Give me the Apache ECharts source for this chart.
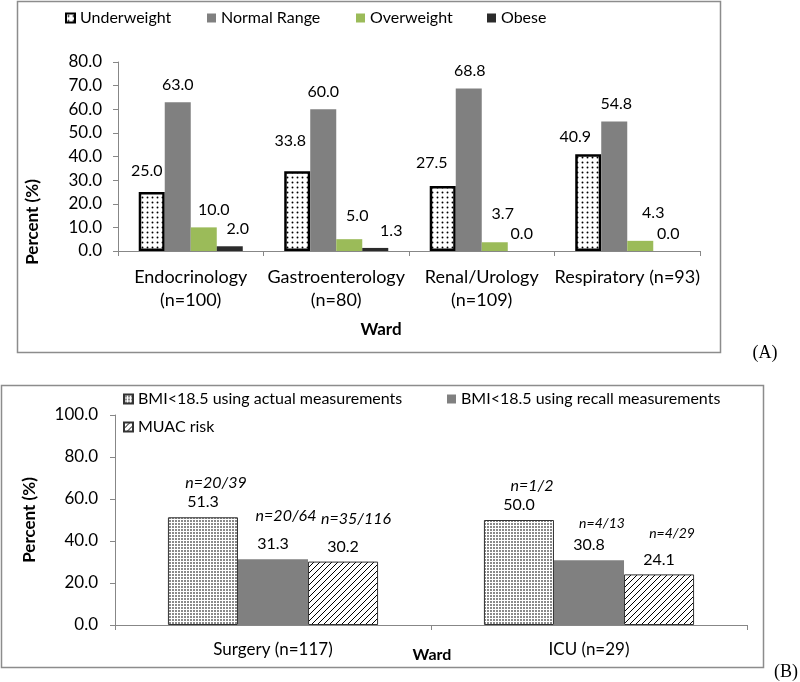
<!DOCTYPE html>
<html>
<head>
<meta charset="utf-8">
<script src="https://cdn.jsdelivr.net/npm/echarts@6/dist/echarts.min.js"></script>
<style>
html,body{margin:0;padding:0;background:#fff;}
#chart{width:800px;height:682px;}
</style>
</head>
<body>
<div id="chart"></div>
<script>
// ---------- DATA (Panel A) ----------
const wardsA = ['Endocrinology\n(n=100)', 'Gastroenterology\n(n=80)', 'Renal/Urology\n(n=109)', 'Respiratory (n=93)'];
const underweight = [25.0, 33.8, 27.5, 40.9];
const normalRange = [63.0, 60.0, 68.8, 54.8];
const overweight = [10.0, 5.0, 3.7, 4.3];
const obese = [2.0, 1.3, 0.0, 0.0];
const seriesNamesA = ['Underweight', 'Normal Range', 'Overweight', 'Obese'];

// ---------- DATA (Panel B) ----------
const wardsB = ['Surgery (n=117)', 'ICU (n=29)'];
const bmiActual = [51.3, 50.0];
const bmiRecall = [31.3, 30.8];
const muacRisk = [30.2, 24.1];
const nActual = ['n=20/39', 'n=1/2'];
const nRecall = ['n=20/64', 'n=4/13'];
const nMuac = ['n=35/116', 'n=4/29'];
const seriesNamesB = ['BMI<18.5 using actual measurements', 'BMI<18.5 using recall measurements', 'MUAC risk'];

// ---------- LAYOUT / STYLE (not data) ----------
const FONT = 'Lato';
// label nudges [dx, dy] per series per category (panel A)
const nudgeA = [
  [[-5,-4],[-7,-13],[-11,-6],[-13,0]],
  [[0,0],[0,0],[1,0],[2,0]],
  [[10,0],[8,-6],[8,-11],[13,-10]],
  [[8,0],[16,0],[1,0],[2,0]]
];
// line heights of the "n=" line in panel B labels, and font sizes
const nLineB = [[18,18],[36,24],[36,32]];
const nSizeB = [[16,16],[16,14],[16,14]];

function pattern(w, h, draw) {
  const c = document.createElement('canvas');
  c.width = w; c.height = h;
  const ctx = c.getContext('2d');
  ctx.fillStyle = '#fff';
  ctx.fillRect(0, 0, w, h);
  draw(ctx);
  return { image: c, repeat: 'repeat' };
}
const dotsSparse = pattern(5, 5, ctx => {
  ctx.fillStyle = '#000';
  ctx.beginPath(); ctx.arc(2.5, 2.5, 0.95, 0, Math.PI * 2); ctx.fill();
});
const dotsDense = pattern(3, 3, ctx => {
  ctx.fillStyle = '#8a8a8a';
  ctx.fillRect(1, 1, 2, 2);
});
const hatch = pattern(6, 6, ctx => {
  ctx.strokeStyle = '#000';
  ctx.lineWidth = 1;
  ctx.beginPath();
  ctx.moveTo(-1, 7); ctx.lineTo(7, -1);
  ctx.moveTo(-1, 1); ctx.lineTo(1, -1);
  ctx.moveTo(5, 7); ctx.lineTo(7, 5);
  ctx.stroke();
});

const axisGray = '#878787';

function buildA(values, si) {
  return values.map((v, i) => ({ value: v, label: { offset: nudgeA[si][i] } }));
}
function buildB(values, nTexts, si) {
  return values.map((v, i) => ({
    value: v,
    label: {
      formatter: '{n|' + nTexts[i] + '}\n{v|' + v.toFixed(1) + '}',
      rich: {
        n: { fontFamily: FONT, fontStyle: 'italic', fontSize: nSizeB[si][i], lineHeight: nLineB[si][i], color: '#000', padding: [0, 0, 0, 26] },
        v: { fontFamily: FONT, fontSize: 16, lineHeight: 20, color: '#000' }
      }
    }
  }));
}

const labelA = { show: true, position: 'top', distance: 8, fontFamily: FONT, fontSize: 16, lineHeight: 19, color: '#000', formatter: p => Number(p.value).toFixed(1) };
const labelB = { show: true, position: 'top', distance: 5, fontFamily: FONT, color: '#000' };

function legend(name, left, top) {
  return {
    data: [name], left: left, top: top, orient: 'horizontal',
    icon: 'rect', itemWidth: 9, itemHeight: 9, itemGap: 0,
    padding: 0, selectedMode: false,
    textStyle: { fontFamily: FONT, fontSize: 16, color: '#000' }
  };
}

const chart = echarts.init(document.getElementById('chart'), null, { renderer: 'canvas' });
chart.setOption({
  animation: false,
  backgroundColor: '#fff',
  textStyle: { fontFamily: FONT },
  legend: [
    legend(seriesNamesA[0], 65, 10),
    legend(seriesNamesA[1], 207, 10),
    legend(seriesNamesA[2], 356, 10),
    legend(seriesNamesA[3], 487, 10),
    legend(seriesNamesB[0], 123, 391),
    legend(seriesNamesB[1], 447, 391),
    legend(seriesNamesB[2], 123, 419)
  ],
  grid: [
    { left: 118, top: 62, width: 582, height: 189 },
    { left: 115, top: 415, width: 632, height: 210 }
  ],
  xAxis: [
    {
      gridIndex: 0, type: 'category', data: wardsA,
      axisLine: { lineStyle: { color: axisGray, width: 1 } },
      axisTick: { show: true, length: 5, lineStyle: { color: axisGray } },
      axisLabel: { margin: 15, fontFamily: FONT, fontSize: 18, lineHeight: 23, color: '#000', interval: 0 }
    },
    {
      gridIndex: 1, type: 'category', data: wardsB,
      axisLine: { lineStyle: { color: axisGray, width: 1 } },
      axisTick: { show: true, length: 5, lineStyle: { color: axisGray } },
      axisLabel: { margin: 15, fontFamily: FONT, fontSize: 17, lineHeight: 20, color: '#000', interval: 0 }
    }
  ],
  yAxis: [
    {
      gridIndex: 0, type: 'value', min: 0, max: 80, interval: 10,
      splitLine: { show: false },
      axisLine: { show: true, lineStyle: { color: axisGray } },
      axisTick: { show: true, length: 5, lineStyle: { color: axisGray } },
      axisLabel: { margin: 16, fontFamily: FONT, fontSize: 17, color: '#000', formatter: v => v.toFixed(1) }
    },
    {
      gridIndex: 1, type: 'value', min: 0, max: 100, interval: 20,
      splitLine: { show: false },
      axisLine: { show: true, lineStyle: { color: axisGray } },
      axisTick: { show: true, length: 5, lineStyle: { color: axisGray } },
      axisLabel: { margin: 17, fontFamily: FONT, fontSize: 17, color: '#000', formatter: v => v.toFixed(1) }
    }
  ],
  series: [
    { name: seriesNamesA[0], type: 'bar', xAxisIndex: 0, yAxisIndex: 0, barGap: '0%', barCategoryGap: '28.5%',
      data: buildA(underweight, 0), itemStyle: { color: dotsSparse, borderColor: '#000', borderWidth: 2.5 }, label: labelA },
    { name: seriesNamesA[1], type: 'bar', xAxisIndex: 0, yAxisIndex: 0, barGap: '0%', barCategoryGap: '28.5%',
      data: buildA(normalRange, 1), itemStyle: { color: '#808080' }, label: labelA },
    { name: seriesNamesA[2], type: 'bar', xAxisIndex: 0, yAxisIndex: 0, barGap: '0%', barCategoryGap: '28.5%',
      data: buildA(overweight, 2), itemStyle: { color: '#9bbb59' }, label: labelA },
    { name: seriesNamesA[3], type: 'bar', xAxisIndex: 0, yAxisIndex: 0, barGap: '0%', barCategoryGap: '28.5%',
      data: buildA(obese, 3), itemStyle: { color: '#2b2b2b' }, label: labelA },

    { name: seriesNamesB[0], type: 'bar', xAxisIndex: 1, yAxisIndex: 1, barGap: '0%', barCategoryGap: '33.5%',
      data: buildB(bmiActual, nActual, 0), itemStyle: { color: dotsDense, borderColor: '#333', borderWidth: 1 }, label: labelB },
    { name: seriesNamesB[1], type: 'bar', xAxisIndex: 1, yAxisIndex: 1, barGap: '0%', barCategoryGap: '33.5%',
      data: buildB(bmiRecall, nRecall, 1), itemStyle: { color: '#808080' }, label: labelB },
    { name: seriesNamesB[2], type: 'bar', xAxisIndex: 1, yAxisIndex: 1, barGap: '0%', barCategoryGap: '33.5%',
      data: buildB(muacRisk, nMuac, 2), itemStyle: { color: hatch, borderColor: '#333', borderWidth: 1 }, label: labelB }
  ],
  graphic: [
    { type: 'rect', shape: { x: 17.5, y: 1.5, width: 703, height: 351 }, style: { fill: null, stroke: '#8c8c8c', lineWidth: 1.5 }, silent: true, z: -1 },
    { type: 'rect', shape: { x: 1.5, y: 385.5, width: 762, height: 282 }, style: { fill: null, stroke: '#8c8c8c', lineWidth: 1.5 }, silent: true, z: -1 },
    { type: 'text', x: 33, y: 222, rotation: Math.PI / 2, style: { text: 'Percent (%)', font: 'bold 17px ' + FONT, fill: '#000', textAlign: 'center', textVerticalAlign: 'middle' } },
    { type: 'text', x: 30, y: 520, rotation: Math.PI / 2, style: { text: 'Percent (%)', font: 'bold 17px ' + FONT, fill: '#000', textAlign: 'center', textVerticalAlign: 'middle' } },
    { type: 'text', x: 381, y: 330, style: { text: 'Ward', font: 'bold 17px ' + FONT, fill: '#000', textAlign: 'center', textVerticalAlign: 'middle' } },
    { type: 'text', x: 432, y: 655, style: { text: 'Ward', font: 'bold 16px ' + FONT, fill: '#000', textAlign: 'center', textVerticalAlign: 'middle' } },
    { type: 'text', x: 765, y: 353, style: { text: '(A)', font: '18px "Liberation Serif"', fill: '#000', textAlign: 'center', textVerticalAlign: 'middle' } },
    { type: 'text', x: 786, y: 672, style: { text: '(B)', font: '18px "Liberation Serif"', fill: '#000', textAlign: 'center', textVerticalAlign: 'middle' } }
  ]
});
</script>
</body>
</html>
